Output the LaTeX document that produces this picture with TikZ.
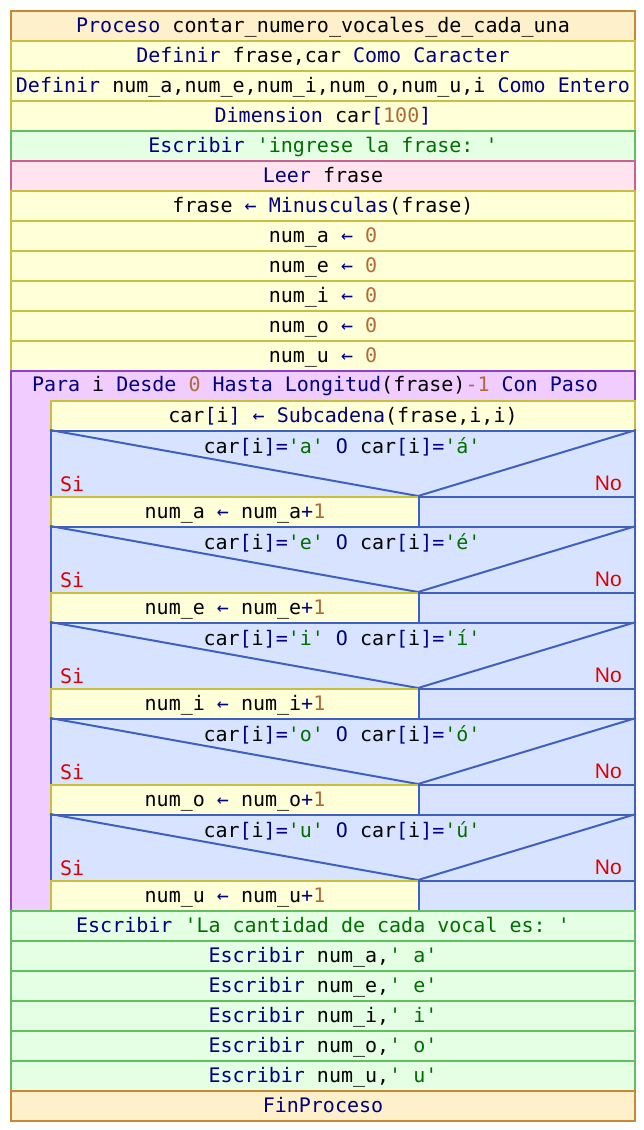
\documentclass[tikz,border=0pt]{standalone}
\usepackage{fontspec}
\setmonofont{DejaVu Sans Mono}
\newfontfamily\nofont{Liberation Sans}
\definecolor{kwc}{RGB}{0,0,128}
\definecolor{nmc}{RGB}{176,106,58}
\definecolor{stc}{RGB}{0,110,0}
\definecolor{rdc}{RGB}{220,0,0}
\definecolor{procF}{RGB}{255,240,204}\definecolor{procD}{RGB}{200,136,48}
\definecolor{defF}{RGB}{255,255,216}\definecolor{defD}{RGB}{200,190,64}
\definecolor{escF}{RGB}{228,255,228}\definecolor{escD}{RGB}{96,192,96}
\definecolor{leeF}{RGB}{255,228,240}\definecolor{leeD}{RGB}{200,96,144}
\definecolor{parF}{RGB}{240,204,255}\definecolor{parD}{RGB}{144,64,192}
\definecolor{ifF}{RGB}{216,228,255}\definecolor{ifD}{RGB}{64,96,192}
\newcommand{\kw}[1]{\textcolor{kwc}{#1}}
\newcommand{\nm}[1]{\textcolor{nmc}{#1}}
\newcommand{\st}[1]{\textcolor{stc}{#1}}
\begin{document}
\begin{tikzpicture}[x=1pt,y=-1pt,
  txt/.style={inner sep=0pt, font=\ttfamily\fontsize{20}{24}\selectfont, text height=16pt, text depth=4pt},
  cell/.style={txt, draw, line width=2pt, anchor=north west},
  full/.style={cell, minimum width=624pt, minimum height=30pt},
  inner/.style={cell, minimum width=584pt, minimum height=30pt},
  procbox/.style={full, fill=procF, draw=procD},
  defbox/.style={full, fill=defF, draw=defD},
  escbox/.style={full, fill=escF, draw=escD},
  leebox/.style={full, fill=leeF, draw=leeD},
  ifbox/.style={cell, fill=ifF, draw=ifD},
  diag/.style={draw=ifD, line width=2pt},
  silab/.style={txt, text=rdc, anchor=base west},
  nolab/.style={inner sep=0pt, font=\nofont\fontsize{21}{24}\selectfont, text=rdc, anchor=base east}
]
\useasboundingbox (0,0) rectangle (644,1130);
\node[procbox] (p0) at (10,10) {\kw{Proceso} contar\_numero\_vocales\_de\_cada\_una};
\node[defbox] (d1) at (10,40) {\kw{Definir} frase,car \kw{Como Caracter}};
\node[defbox] (d2) at (10,70) {\kw{Definir} num\_a,num\_e,num\_i,num\_o,num\_u,i \kw{Como Entero}};
\node[defbox] (d3) at (10,100) {\kw{Dimension} car\kw{[}\nm{100}\kw{]}};
\node[escbox] (e1) at (10,130) {\kw{Escribir} \st{'ingrese la frase: '}};
\node[leebox] (l1) at (10,160) {\kw{Leer} frase};
\node[defbox] (a0) at (10,190) {frase \kw{←} \kw{Minusculas}(frase)};
\node[defbox] (a1) at (10,220) {num\_a \kw{←} \nm{0}};
\node[defbox] (a2) at (10,250) {num\_e \kw{←} \nm{0}};
\node[defbox] (a3) at (10,280) {num\_i \kw{←} \nm{0}};
\node[defbox] (a4) at (10,310) {num\_o \kw{←} \nm{0}};
\node[defbox] (a5) at (10,340) {num\_u \kw{←} \nm{0}};
% Para loop
\node[cell, fill=parF, draw=parD, minimum width=624pt, minimum height=540pt] (para) at (10,370) {};
\node[txt] (paratxt) at (315,385) {\kw{Para} i \kw{Desde} \nm{0} \kw{Hasta} \kw{Longitud}(frase)\nm{-1} \kw{Con Paso}};
\node[inner, fill=defF, draw=defD] (sub) at (50,400) {car\kw{[}i\kw{]} \kw{←} \kw{Subcadena}(frase,i,i)};
\foreach \v/\acc [count=\k from 0] in {a/á,e/é,i/í,o/ó,u/ú}{
  \pgfmathsetmacro{\yy}{430+96*\k}
  \node[ifbox, minimum width=584pt, minimum height=66pt] (if\k) at (50,\yy) {};
  \coordinate (v\k) at (418,\yy+66);
  \draw[diag] (if\k.north west) -- (v\k) -- (if\k.north east);
  \node[txt, anchor=base] (c\k) at (342,\yy+23) {car\kw{[}i\kw{]=}\st{'\v'} \kw{O} car\kw{[}i\kw{]=}\st{'\acc'}};
  \node[silab] (si\k) at (60,\yy+61) {Si};
  \node[nolab] (no\k) at (622,\yy+60) {No};
  \node[cell, fill=defF, draw=defD, minimum width=368pt, minimum height=30pt] (as\k) at (50,\yy+66) {num\_\v\ \kw{←} num\_\v\kw{+}\nm{1}};
  \node[ifbox, minimum width=216pt, minimum height=30pt] (em\k) at (418,\yy+66) {};
}
\node[escbox] (w0) at (10,910) {\kw{Escribir} \st{'La cantidad de cada vocal es: '}};
\node[escbox] (w1) at (10,940) {\kw{Escribir} num\_a,\st{' a'}};
\node[escbox] (w2) at (10,970) {\kw{Escribir} num\_e,\st{' e'}};
\node[escbox] (w3) at (10,1000) {\kw{Escribir} num\_i,\st{' i'}};
\node[escbox] (w4) at (10,1030) {\kw{Escribir} num\_o,\st{' o'}};
\node[escbox] (w5) at (10,1060) {\kw{Escribir} num\_u,\st{' u'}};
\node[procbox] (fin) at (10,1090) {\kw{FinProceso}};
\end{tikzpicture}
\end{document}
